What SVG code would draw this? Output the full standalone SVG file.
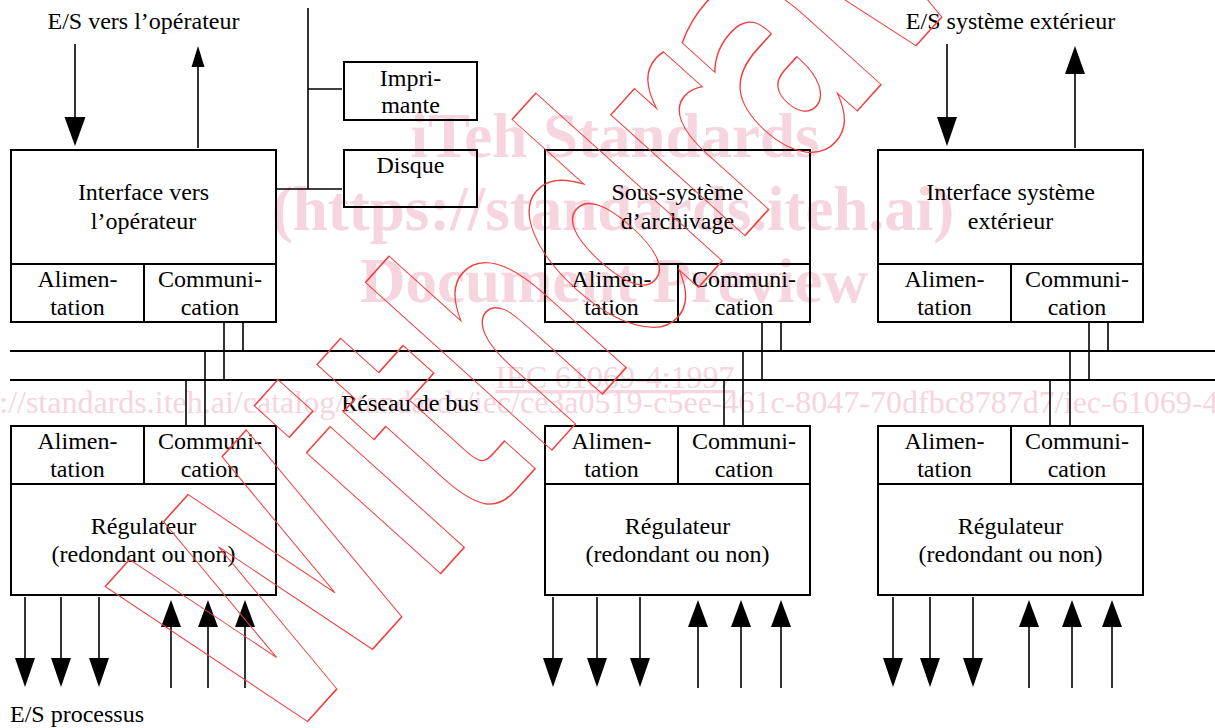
<svg xmlns="http://www.w3.org/2000/svg" width="1215" height="728" viewBox="0 0 1215 728">
<style>
.t{font-family:"Liberation Serif","Times New Roman",serif;font-size:24px;fill:#000;text-anchor:middle}
.tl{font-family:"Liberation Serif","Times New Roman",serif;font-size:24px;fill:#000}
.box{fill:none;stroke:#000;stroke-width:2}
.ln{stroke:#000;stroke-width:2;fill:none}
.cn{stroke:#000;stroke-width:1.6;fill:none}
.hd{fill:#000;stroke:none}
.wm{font-family:"Liberation Serif","Times New Roman",serif;fill:#f6d5de;text-anchor:middle}
.wmb{font-weight:bold;font-size:63px}
.red{font-family:"DejaVu Sans",sans-serif;font-weight:bold;fill:none;stroke:#f04040;stroke-width:1.6}
</style>
<rect x="0" y="0" width="1215" height="728" fill="#fff"/>
<g id="watermark">
<text class="wm wmb" x="615" y="157">iTeh Standards</text>
<text class="wm wmb" x="613" y="230">(https://standards.iteh.ai)</text>
<text class="wm wmb" x="614" y="302">Document Preview</text>
<text class="wm" x="615" y="388" font-size="32" text-decoration="underline">IEC 61069-4:1997</text>
<text class="wm" x="615" y="413" font-size="32">https://standards.iteh.ai/catalog/standards/iec/ce3a0519-c5ee-461c-8047-70dfbc8787d7/iec-61069-4-1997</text>
</g>
<g id="connectors">
<line class="ln" x1="10" y1="351" x2="1215" y2="351"/>
<line class="ln" x1="10" y1="380" x2="1215" y2="380"/>
<line class="cn" x1="224" y1="322" x2="224" y2="380"/>
<line class="cn" x1="243" y1="322" x2="243" y2="351"/>
<line class="cn" x1="205" y1="351" x2="205" y2="426"/>
<line class="cn" x1="186" y1="380" x2="186" y2="426"/>
<line class="cn" x1="762" y1="322" x2="762" y2="380"/>
<line class="cn" x1="781" y1="322" x2="781" y2="351"/>
<line class="cn" x1="743" y1="351" x2="743" y2="426"/>
<line class="cn" x1="724" y1="380" x2="724" y2="426"/>
<line class="cn" x1="1089" y1="322" x2="1089" y2="380"/>
<line class="cn" x1="1108" y1="322" x2="1108" y2="351"/>
<line class="cn" x1="1070" y1="351" x2="1070" y2="426"/>
<line class="cn" x1="1050" y1="380" x2="1050" y2="426"/>
<line class="cn" x1="308" y1="8" x2="308" y2="189"/>
<line class="cn" x1="308" y1="89" x2="342" y2="89"/>
<line class="cn" x1="276" y1="189" x2="342" y2="189"/>
<text class="t" x="410" y="411">Réseau de bus</text>
<line class="cn" x1="75" y1="44" x2="75" y2="120"/>
<polygon class="hd" points="64.5,117 85.5,117 75,146"/>
<line class="cn" x1="198" y1="148" x2="198" y2="64"/>
<polygon class="hd" points="191.5,67 204.5,67 198,46"/>
<line class="cn" x1="947" y1="44" x2="947" y2="120"/>
<polygon class="hd" points="937,117 957,117 947,146"/>
<line class="cn" x1="1075" y1="148" x2="1075" y2="72"/>
<polygon class="hd" points="1065,74 1085,74 1075,46"/>
<g id="io-left">
<line class="cn" x1="25" y1="597" x2="25" y2="662"/><polygon class="hd" points="15,658 35,658 25,687"/>
<line class="cn" x1="61" y1="597" x2="61" y2="662"/><polygon class="hd" points="51,658 71,658 61,687"/>
<line class="cn" x1="99" y1="597" x2="99" y2="662"/><polygon class="hd" points="89,658 109,658 99,687"/>
<line class="cn" x1="171" y1="624" x2="171" y2="688"/><polygon class="hd" points="161,627 181,627 171,600"/>
<line class="cn" x1="208" y1="624" x2="208" y2="688"/><polygon class="hd" points="198,627 218,627 208,600"/>
<line class="cn" x1="245" y1="624" x2="245" y2="688"/><polygon class="hd" points="235,627 255,627 245,600"/>
</g>
<g id="io-mid">
<line class="cn" x1="553" y1="597" x2="553" y2="662"/><polygon class="hd" points="543,658 563,658 553,687"/>
<line class="cn" x1="597" y1="597" x2="597" y2="662"/><polygon class="hd" points="587,658 607,658 597,687"/>
<line class="cn" x1="640" y1="597" x2="640" y2="662"/><polygon class="hd" points="630,658 650,658 640,687"/>
<line class="cn" x1="698" y1="624" x2="698" y2="688"/><polygon class="hd" points="688,627 708,627 698,600"/>
<line class="cn" x1="741" y1="624" x2="741" y2="688"/><polygon class="hd" points="731,627 751,627 741,600"/>
<line class="cn" x1="781" y1="624" x2="781" y2="688"/><polygon class="hd" points="771,627 791,627 781,600"/>
</g>
<g id="io-right">
<line class="cn" x1="893" y1="597" x2="893" y2="662"/><polygon class="hd" points="883,658 903,658 893,687"/>
<line class="cn" x1="930" y1="597" x2="930" y2="662"/><polygon class="hd" points="920,658 940,658 930,687"/>
<line class="cn" x1="973" y1="597" x2="973" y2="662"/><polygon class="hd" points="963,658 983,658 973,687"/>
<line class="cn" x1="1029" y1="624" x2="1029" y2="688"/><polygon class="hd" points="1019,627 1039,627 1029,600"/>
<line class="cn" x1="1072" y1="624" x2="1072" y2="688"/><polygon class="hd" points="1062,627 1082,627 1072,600"/>
<line class="cn" x1="1112" y1="624" x2="1112" y2="688"/><polygon class="hd" points="1102,627 1122,627 1112,600"/>
</g>
</g>
<g id="labels">
<text class="t" x="143.5" y="29">E/S vers l’opérateur</text>
<text class="t" x="1010.5" y="29">E/S système extérieur</text>
<text class="tl" x="10" y="722">E/S processus</text>
</g>
<g id="imprimante">
<rect class="box" x="344" y="62" width="133" height="58"/>
<text class="t" x="410.5" y="86">Impri-</text>
<text class="t" x="410.5" y="113">mante</text>
</g>
<g id="disque">
<rect class="box" x="344" y="150" width="133" height="57"/>
<text class="t" x="410.5" y="173">Disque</text>
</g>
<g id="interface-operateur">
<rect class="box" x="11" y="150" width="265" height="172"/>
<line class="ln" x1="11" y1="264" x2="276" y2="264"/>
<line class="ln" x1="144" y1="264" x2="144" y2="322"/>
<text class="t" x="143.5" y="200">Interface vers</text>
<text class="t" x="143.5" y="229">l’opérateur</text>
<text class="t" x="77.5" y="287">Alimen-</text>
<text class="t" x="77.5" y="315">tation</text>
<text class="t" x="210" y="287">Communi-</text>
<text class="t" x="210" y="315">cation</text>
</g>
<g id="archivage">
<rect class="box" x="545" y="150" width="265" height="172"/>
<line class="ln" x1="545" y1="264" x2="810" y2="264"/>
<line class="ln" x1="678" y1="264" x2="678" y2="322"/>
<text class="t" x="677.5" y="200">Sous-système</text>
<text class="t" x="677.5" y="229">d’archivage</text>
<text class="t" x="611.5" y="287">Alimen-</text>
<text class="t" x="611.5" y="315">tation</text>
<text class="t" x="744" y="287">Communi-</text>
<text class="t" x="744" y="315">cation</text>
</g>
<g id="interface-exterieur">
<rect class="box" x="878" y="150" width="265" height="172"/>
<line class="ln" x1="878" y1="264" x2="1143" y2="264"/>
<line class="ln" x1="1011" y1="264" x2="1011" y2="322"/>
<text class="t" x="1010.5" y="200">Interface système</text>
<text class="t" x="1010.5" y="229">extérieur</text>
<text class="t" x="944.5" y="287">Alimen-</text>
<text class="t" x="944.5" y="315">tation</text>
<text class="t" x="1077" y="287">Communi-</text>
<text class="t" x="1077" y="315">cation</text>
</g>
<g id="regulateur-1">
<rect class="box" x="11" y="426" width="265" height="169"/>
<line class="ln" x1="11" y1="484" x2="276" y2="484"/>
<line class="ln" x1="144" y1="426" x2="144" y2="484"/>
<text class="t" x="77.5" y="449">Alimen-</text>
<text class="t" x="77.5" y="477">tation</text>
<text class="t" x="210" y="449">Communi-</text>
<text class="t" x="210" y="477">cation</text>
<text class="t" x="143.5" y="534">Régulateur</text>
<text class="t" x="143.5" y="562">(redondant ou non)</text>
</g>
<g id="regulateur-2">
<rect class="box" x="545" y="426" width="265" height="169"/>
<line class="ln" x1="545" y1="484" x2="810" y2="484"/>
<line class="ln" x1="678" y1="426" x2="678" y2="484"/>
<text class="t" x="611.5" y="449">Alimen-</text>
<text class="t" x="611.5" y="477">tation</text>
<text class="t" x="744" y="449">Communi-</text>
<text class="t" x="744" y="477">cation</text>
<text class="t" x="677.5" y="534">Régulateur</text>
<text class="t" x="677.5" y="562">(redondant ou non)</text>
</g>
<g id="regulateur-3">
<rect class="box" x="878" y="426" width="265" height="169"/>
<line class="ln" x1="878" y1="484" x2="1143" y2="484"/>
<line class="ln" x1="1011" y1="426" x2="1011" y2="484"/>
<text class="t" x="944.5" y="449">Alimen-</text>
<text class="t" x="944.5" y="477">tation</text>
<text class="t" x="1077" y="449">Communi-</text>
<text class="t" x="1077" y="477">cation</text>
<text class="t" x="1010.5" y="534">Régulateur</text>
<text class="t" x="1010.5" y="562">(redondant ou non)</text>
</g>
<g id="stamp">
<text class="red" x="0" y="0" font-size="330" textLength="1245" lengthAdjust="spacingAndGlyphs" transform="translate(280,752) rotate(-48)">Withdrawn</text>
</g>
</svg>
